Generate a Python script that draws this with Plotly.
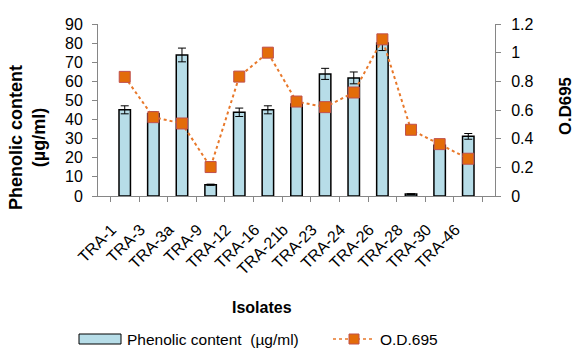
import plotly.graph_objects as go

isolates = ["TRA-1", "TRA-3", "TRA-3a", "TRA-9", "TRA-12", "TRA-16", "TRA-21b",
            "TRA-23", "TRA-24", "TRA-26", "TRA-28", "TRA-30", "TRA-46"]
phenolic = [45.1, 43, 73.8, 5.9, 43.8, 45.1, 48.2, 63.9, 61.8, 80.1, 1.0, 26.5, 31.2]
phenolic_err = [2.1, 1.0, 3.6, 0.3, 2.2, 2.1, 1.2, 2.9, 3.1, 4.0, 0.2, 0.5, 1.5]
od695 = [0.831, 0.550, 0.506, 0.202, 0.833, 1.0, 0.659, 0.620, 0.722, 1.093, 0.462, 0.362, 0.260]
od_err = [0.02, 0.0, 0.0, 0.0, 0.02, 0.03, 0.0, 0.0, 0.0, 0.02, 0.0, 0.0, 0.0]

FONT = "Liberation Sans, Arial, sans-serif"
BAR_FILL = "#B7DDE8"
OD_LINE = "#E8782A"
OD_FILL = "#E36C09"
OD_EDGE = "#C0504D"

# plot-area geometry (pixels)
W, H = 578, 352
L, R, T, B = 98, 83, 24, 156
PW, PH = W - L - R, H - T - B


def px(xp):
    return (xp - L) / PW


def py(yp):
    return (H - B - yp) / PH


fig = go.Figure()
fig.add_trace(go.Bar(
    x=isolates, y=phenolic, name="Phenolic content  (µg/ml)",
    marker=dict(color=BAR_FILL, line=dict(color="black", width=1.5)),
    width=0.4, showlegend=False,
    error_y=dict(type="data", array=phenolic_err, color="black", thickness=1, width=4),
))
fig.add_trace(go.Scatter(
    x=isolates, y=od695, name="O.D.695", yaxis="y2", mode="lines+markers",
    line=dict(color=OD_LINE, width=2, dash="dot"), showlegend=False,
    marker=dict(symbol="square", size=11, color=OD_FILL, line=dict(color=OD_EDGE, width=1)),
    error_y=dict(type="data", array=od_err, color="black", thickness=1, width=4),
))

shapes = [
    # legend: bar swatch
    dict(type="rect", xref="paper", yref="paper", x0=px(79), x1=px(121), y0=py(344), y1=py(334),
         fillcolor=BAR_FILL, line=dict(color="black", width=1)),
    # legend: dotted line
    dict(type="line", xref="paper", yref="paper", x0=px(333), x1=px(375), y0=py(339), y1=py(339),
         line=dict(color=OD_LINE, width=1.5, dash="dot")),
    # legend: square marker
    dict(type="rect", xref="paper", yref="paper", x0=px(349), x1=px(359), y0=py(344), y1=py(334),
         fillcolor=OD_FILL, line=dict(color=OD_EDGE, width=1)),
]

annotations = [
    dict(text="<b>Phenolic content<br>(µg/ml)</b>", xref="paper", yref="paper",
         x=px(27), y=py(138), xanchor="center", yanchor="middle", textangle=-90,
         showarrow=False, font=dict(size=18)),
    dict(text="<b>O.D695</b>", xref="paper", yref="paper",
         x=px(565), y=py(106), xanchor="center", yanchor="middle", textangle=-90,
         showarrow=False, font=dict(size=16.8)),
    dict(text="<b>Isolates</b>", xref="paper", yref="paper",
         x=px(262), y=py(307), xanchor="center", yanchor="middle",
         showarrow=False, font=dict(size=16)),
    dict(text="Phenolic content  (µg/ml)", xref="paper", yref="paper",
         x=px(125), y=py(339), xanchor="left", yanchor="middle",
         showarrow=False, font=dict(size=15.5)),
    dict(text="O.D.695", xref="paper", yref="paper",
         x=px(378), y=py(339), xanchor="left", yanchor="middle",
         showarrow=False, font=dict(size=15.5)),
]

fig.update_layout(
    width=W, height=H,
    margin=dict(l=L, r=R, t=T, b=B, autoexpand=False),
    paper_bgcolor="white", plot_bgcolor="white",
    font=dict(family=FONT, size=16, color="black"),
    showlegend=False,
    shapes=shapes, annotations=annotations,
    xaxis=dict(
        type="category", showline=True, linecolor="#868686", linewidth=1,
        ticks="outside", tickson="boundaries", ticklen=5, tickcolor="#868686",
        tickangle=-45, tickfont=dict(size=16),
        ticklabelshift=-13, ticklabelstandoff=17,
        automargin=False,
    ),
    yaxis=dict(
        range=[0, 90], dtick=10, showgrid=False, showline=True, linecolor="#868686",
        ticks="outside", ticklen=5, tickcolor="#868686", tickfont=dict(size=16),
        ticklabelstandoff=6,
        automargin=False, zeroline=False,
    ),
    yaxis2=dict(
        range=[0, 1.2], dtick=0.2, overlaying="y", side="right", showgrid=False,
        showline=True, linecolor="#868686", ticks="outside", ticklen=5, tickcolor="#868686",
        tickfont=dict(size=16), tickformat="~g", ticklabelstandoff=7,
        automargin=False, zeroline=False,
    ),
    bargap=0.6,
)

fig.write_html("out.html")
